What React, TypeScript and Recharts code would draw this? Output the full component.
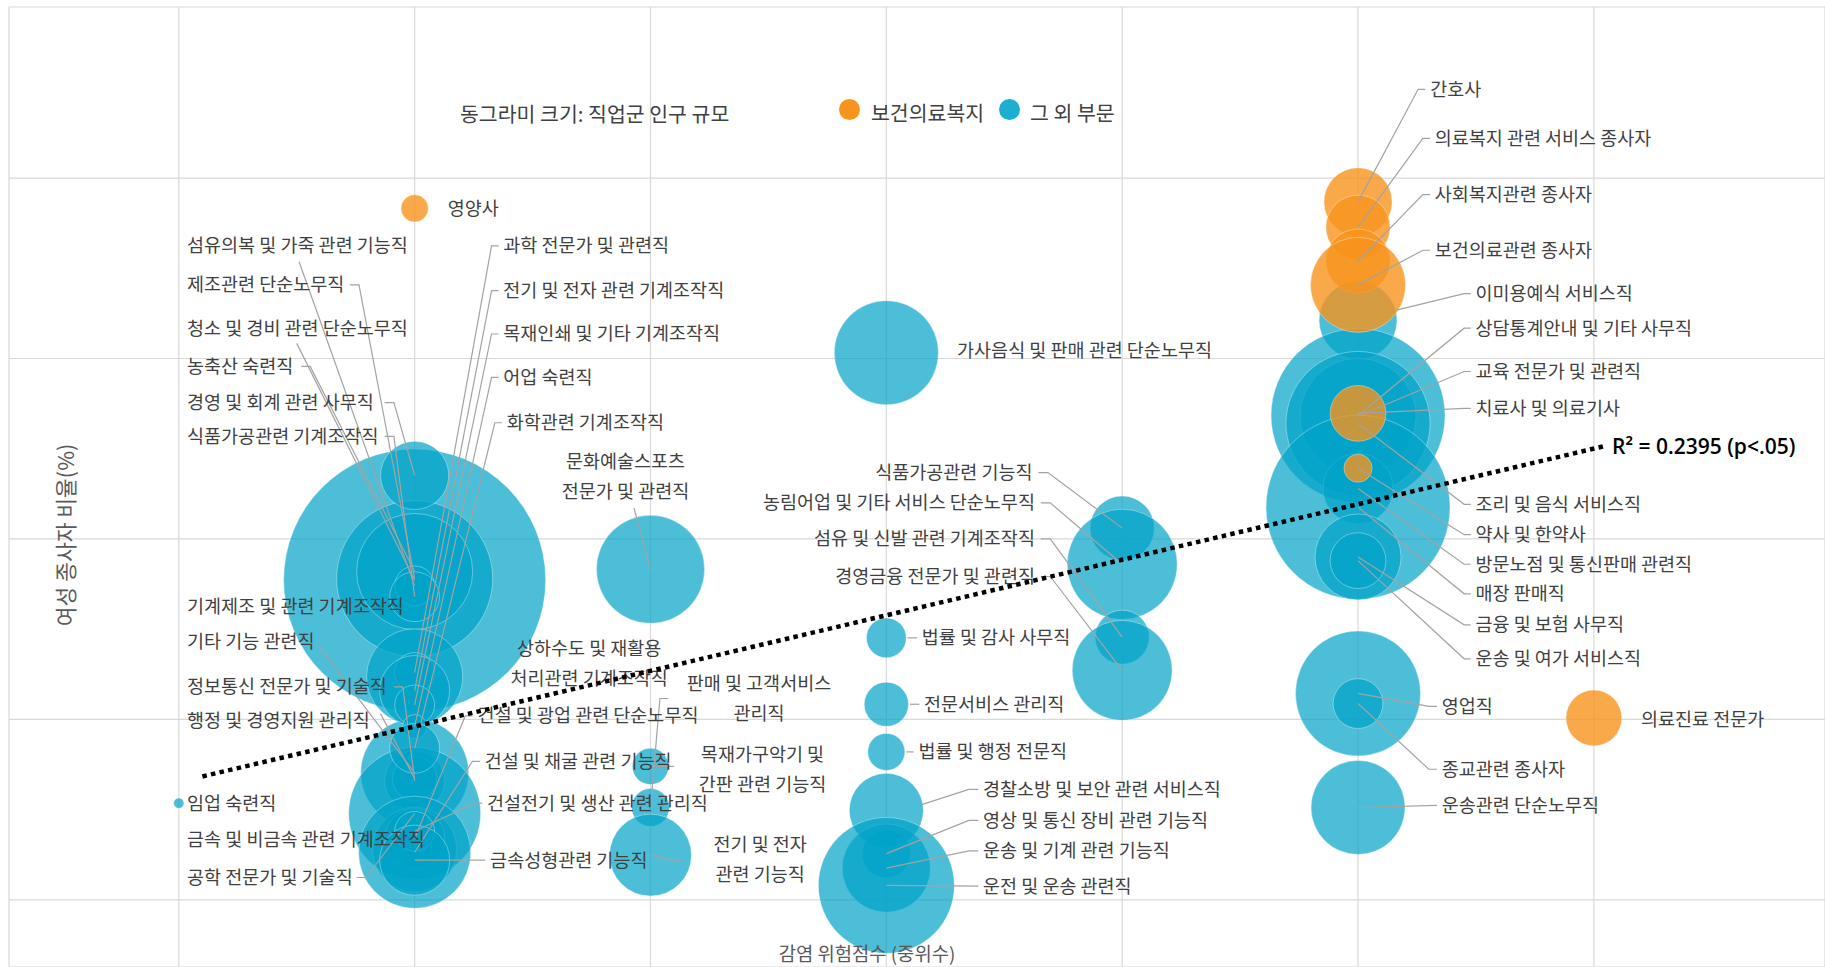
import React from "react";
import { ScatterChart, Scatter, XAxis, YAxis, ZAxis, CartesianGrid } from "recharts";

const WIDTH = 1825;
const HEIGHT = 967;
const FONT = '"Noto Sans CJK KR", "Noto Sans", sans-serif';
const ORANGE = "#F7941D";
const TEAL = "#00A2C7";
const LEADER = "#a3a3a3";

const riskTicks = [0, 1, 2, 3, 4, 5, 6];
const shareTicks = [0, 25, 50, 75, 100];

// risk = 감염 위험점수(중위수), female = 여성 종사자 비율(%), pop = 직업군 인구 규모(천 명)
const healthJobs = [
  { job: "영양사", risk: 1, female: 95.8, pop: 14 },
  { job: "간호사", risk: 5, female: 96.7, pop: 88 },
  { job: "의료복지 관련 서비스 종사자", risk: 5, female: 93.2, pop: 78 },
  { job: "사회복지관련 종사자", risk: 5, female: 88.5, pop: 78 },
  { job: "보건의료관련 종사자", risk: 5, female: 85.2, pop: 171 },
  { job: "치료사 및 의료기사", risk: 5, female: 67.4, pop: 59 },
  { job: "약사 및 한약사", risk: 5, female: 59.8, pop: 15 },
  { job: "의료진료 전문가", risk: 6, female: 25.2, pop: 59 },
];

const otherJobs = [
  { job: "임업 숙련직", risk: 0, female: 13.4, pop: 2 },
  { job: "청소 및 경비 관련 단순노무직", risk: 1, female: 44.3, pop: 1300 },
  { job: "제조관련 단순노무직", risk: 1, female: 44.5, pop: 461 },
  { job: "농축산 숙련직", risk: 1, female: 45.5, pop: 255 },
  { job: "섬유의복 및 가죽 관련 기능직", risk: 1, female: 43.5, pop: 30 },
  { job: "식품가공관련 기계조작직", risk: 1, female: 42.0, pop: 47 },
  { job: "경영 및 회계 관련 사무직", risk: 1, female: 58.8, pop: 88 },
  { job: "기계제조 및 관련 기계조작직", risk: 1, female: 30.9, pop: 175 },
  { job: "기타 기능 관련직", risk: 1, female: 17.6, pop: 221 },
  { job: "정보통신 전문가 및 기술직", risk: 1, female: 16.5, pop: 68 },
  { job: "행정 및 경영지원 관리직", risk: 1, female: 16.8, pop: 37 },
  { job: "공학 전문가 및 기술직", risk: 1, female: 12.0, pop: 330 },
  { job: "금속 및 비금속 관련 기계조작직", risk: 1, female: 7.0, pop: 134 },
  { job: "과학 전문가 및 관련직", risk: 1, female: 31.5, pop: 30 },
  { job: "전기 및 전자 관련 기계조작직", risk: 1, female: 29.0, pop: 93 },
  { job: "목재인쇄 및 기타 기계조작직", risk: 1, female: 27.0, pop: 30 },
  { job: "어업 숙련직", risk: 1, female: 24.0, pop: 11 },
  { job: "화학관련 기계조작직", risk: 1, female: 21.0, pop: 47 },
  { job: "상하수도 및 재활용 처리관련 기계조작직", risk: 1, female: 10.0, pop: 11 },
  { job: "건설 및 광업 관련 단순노무직", risk: 1, female: 8.5, pop: 68 },
  { job: "건설 및 채굴 관련 기능직", risk: 1, female: 6.6, pop: 238 },
  { job: "건설전기 및 생산 관련 관리직", risk: 1, female: 9.5, pop: 30 },
  { job: "금속성형관련 기능직", risk: 1, female: 5.5, pop: 93 },
  { job: "문화예술스포츠 전문가 및 관련직", risk: 2, female: 45.8, pop: 221 },
  { job: "판매 및 고객서비스 관리직", risk: 2, female: 12.8, pop: 27 },
  { job: "목재가구악기 및 간판 관련 기능직", risk: 2, female: 18.5, pop: 25 },
  { job: "전기 및 전자 관련 기능직", risk: 2, female: 6.2, pop: 127 },
  { job: "가사음식 및 판매 관련 단순노무직", risk: 3, female: 75.8, pop: 205 },
  { job: "법률 및 감사 사무직", risk: 3, female: 36.3, pop: 30 },
  { job: "전문서비스 관리직", risk: 3, female: 27.1, pop: 37 },
  { job: "법률 및 행정 전문직", risk: 3, female: 20.5, pop: 26 },
  { job: "경찰소방 및 보안 관련 서비스직", risk: 3, female: 12.4, pop: 104 },
  { job: "영상 및 통신 장비 관련 기능직", risk: 3, female: 6.4, pop: 44 },
  { job: "운송 및 기계 관련 기능직", risk: 3, female: 4.4, pop: 147 },
  { job: "운전 및 운송 관련직", risk: 3, female: 2.0, pop: 350 },
  { job: "식품가공관련 기능직", risk: 4, female: 51.5, pop: 78 },
  { job: "농림어업 및 기타 서비스 단순노무직", risk: 4, female: 46.5, pop: 229 },
  { job: "섬유 및 신발 관련 기계조작직", risk: 4, female: 36.4, pop: 55 },
  { job: "경영금융 전문가 및 관련직", risk: 4, female: 31.8, pop: 189 },
  { job: "이미용예식 서비스직", risk: 5, female: 80.3, pop: 115 },
  { job: "상담통계안내 및 기타 사무직", risk: 5, female: 67.1, pop: 573 },
  { job: "교육 전문가 및 관련직", risk: 5, female: 67.0, pop: 255 },
  { job: "조리 및 음식 서비스직", risk: 5, female: 66.0, pop: 393 },
  { job: "방문노점 및 통신판매 관련직", risk: 5, female: 57.0, pop: 93 },
  { job: "매장 판매직", risk: 5, female: 54.4, pop: 641 },
  { job: "금융 및 보험 사무직", risk: 5, female: 47.5, pop: 140 },
  { job: "운송 및 여가 서비스직", risk: 5, female: 47.0, pop: 59 },
  { job: "영업직", risk: 5, female: 28.6, pop: 296 },
  { job: "종교관련 종사자", risk: 5, female: 27.2, pop: 47 },
  { job: "운송관련 단순노무직", risk: 5, female: 12.8, pop: 167 },
];

// 추세선 (R² = 0.2395)
const trendLine = [
  { risk: 0.1, female: 17.1 },
  { risk: 6.05, female: 62.9 },
];

// label placement, in axis units; "B" = the bubble centre
type Pt = [number, number] | "B";
type Spot = { job: string; tx: number; ty: number; anchor?: string; lines?: string[]; lead?: Pt[] };
const lead = (x0: number, x1: number, y: number): Pt[] => [[x0, y], [x1, y], "B"];

const labelSpots: Spot[] = [
  { job: "영양사", tx: 1.14, ty: 95.8 },
  { job: "간호사", tx: 5.306, ty: 112.3, lead: lead(5.285, 5.255, 112.3) },
  { job: "의료복지 관련 서비스 종사자", tx: 5.325, ty: 105.5, lead: lead(5.305, 5.275, 105.5) },
  { job: "사회복지관련 종사자", tx: 5.325, ty: 97.7, lead: lead(5.305, 5.275, 97.7) },
  { job: "보건의료관련 종사자", tx: 5.325, ty: 90.0, lead: lead(5.305, 5.275, 90.0) },
  { job: "치료사 및 의료기사", tx: 5.498, ty: 68.1, lead: lead(5.478, 5.45, 68.1) },
  { job: "약사 및 한약사", tx: 5.498, ty: 50.6, lead: lead(5.478, 5.45, 50.6) },
  { job: "의료진료 전문가", tx: 6.2, ty: 25.0 },

  { job: "임업 숙련직", tx: 0.035, ty: 13.4 },
  { job: "섬유의복 및 가죽 관련 기능직", tx: 0.035, ty: 90.6, lead: [[0.51, 88.4], "B"] },
  { job: "제조관련 단순노무직", tx: 0.035, ty: 85.2, lead: lead(0.725, 0.764, 85.2) },
  { job: "청소 및 경비 관련 단순노무직", tx: 0.035, ty: 79.2, lead: [[0.5, 77.1], "B"] },
  { job: "농축산 숙련직", tx: 0.035, ty: 73.9, lead: lead(0.52, 0.557, 73.9) },
  { job: "경영 및 회계 관련 사무직", tx: 0.035, ty: 68.9, lead: lead(0.873, 0.912, 68.9) },
  { job: "식품가공관련 기계조작직", tx: 0.035, ty: 64.2, lead: lead(0.873, 0.912, 64.2) },
  { job: "기계제조 및 관련 기계조작직", tx: 0.035, ty: 40.6 },
  { job: "기타 기능 관련직", tx: 0.035, ty: 35.8, lead: [[0.59, 35.3], "B"] },
  { job: "정보통신 전문가 및 기술직", tx: 0.035, ty: 29.5, lead: lead(0.912, 0.95, 29.5) },
  { job: "행정 및 경영지원 관리직", tx: 0.035, ty: 24.8, lead: [[0.855, 25.8], "B"] },
  { job: "금속 및 비금속 관련 기계조작직", tx: 0.035, ty: 8.4 },
  { job: "공학 전문가 및 기술직", tx: 0.035, ty: 3.1, lead: lead(0.754, 0.794, 3.1) },
  { job: "과학 전문가 및 관련직", tx: 1.376, ty: 90.6, lead: lead(1.356, 1.326, 90.6) },
  { job: "전기 및 전자 관련 기계조작직", tx: 1.376, ty: 84.4, lead: lead(1.356, 1.326, 84.4) },
  { job: "목재인쇄 및 기타 기계조작직", tx: 1.376, ty: 78.4, lead: lead(1.356, 1.326, 78.4) },
  { job: "어업 숙련직", tx: 1.376, ty: 72.4, lead: lead(1.356, 1.326, 72.4) },
  { job: "화학관련 기계조작직", tx: 1.39, ty: 66.1, lead: lead(1.37, 1.34, 66.1) },
  { job: "상하수도 및 재활용 처리관련 기계조작직", tx: 1.74, ty: 32.8, anchor: "middle", lines: ["상하수도 및 재활용", "처리관련 기계조작직"] },
  { job: "건설 및 광업 관련 단순노무직", tx: 1.267, ty: 25.5, lead: lead(1.245, 1.215, 25.5) },
  { job: "건설 및 채굴 관련 기능직", tx: 1.297, ty: 19.2, lead: lead(1.277, 1.245, 19.2) },
  { job: "건설전기 및 생산 관련 관리직", tx: 1.307, ty: 13.4, lead: lead(1.287, 1.255, 13.4) },
  { job: "금속성형관련 기능직", tx: 1.32, ty: 5.5, lead: lead(1.3, 1.26, 5.5) },
  { job: "문화예술스포츠 전문가 및 관련직", tx: 1.894, ty: 58.7, anchor: "middle", lines: ["문화예술스포츠", "전문가 및 관련직"], lead: [[1.93, 54.3], "B"] },
  { job: "판매 및 고객서비스 관리직", tx: 2.46, ty: 27.9, anchor: "middle", lines: ["판매 및 고객서비스", "관리직"], lead: [[2.075, 27.9], [2.04, 27.9], "B"] },
  { job: "목재가구악기 및 간판 관련 기능직", tx: 2.475, ty: 18.1, anchor: "middle", lines: ["목재가구악기 및", "간판 관련 기능직"], lead: [[2.1, 18.5], "B"] },
  { job: "전기 및 전자 관련 기능직", tx: 2.465, ty: 5.6, anchor: "middle", lines: ["전기 및 전자", "관련 기능직"], lead: [[2.13, 5.5], [2.09, 5.5], "B"] },
  { job: "가사음식 및 판매 관련 단순노무직", tx: 3.3, ty: 76.1 },
  { job: "법률 및 감사 사무직", tx: 3.15, ty: 36.3, lead: [[3.13, 36.3], [3.09, 36.3]] },
  { job: "전문서비스 관리직", tx: 3.16, ty: 27.1, lead: [[3.14, 27.1], [3.1, 27.1]] },
  { job: "법률 및 행정 전문직", tx: 3.136, ty: 20.5, lead: [[3.116, 20.5], [3.085, 20.5]] },
  { job: "경찰소방 및 보안 관련 서비스직", tx: 3.41, ty: 15.3, lead: [[3.39, 15.3], [3.35, 15.3], [3.15, 13.2]] },
  { job: "영상 및 통신 장비 관련 기능직", tx: 3.41, ty: 11.0, lead: lead(3.39, 3.35, 11.0) },
  { job: "운송 및 기계 관련 기능직", tx: 3.41, ty: 6.8, lead: lead(3.39, 3.35, 6.8) },
  { job: "운전 및 운송 관련직", tx: 3.41, ty: 1.9, lead: [[3.39, 1.9], "B"] },
  { job: "식품가공관련 기능직", tx: 3.62, ty: 59.2, anchor: "end", lead: lead(3.645, 3.685, 59.2) },
  { job: "농림어업 및 기타 서비스 단순노무직", tx: 3.63, ty: 55.0, anchor: "end", lead: lead(3.655, 3.695, 55.0) },
  { job: "섬유 및 신발 관련 기계조작직", tx: 3.63, ty: 50.0, anchor: "end", lead: lead(3.655, 3.695, 50.0) },
  { job: "경영금융 전문가 및 관련직", tx: 3.63, ty: 44.8, anchor: "end", lead: lead(3.655, 3.695, 44.8) },
  { job: "이미용예식 서비스직", tx: 5.498, ty: 84.0, lead: [[5.478, 84.0], [5.45, 84.0], [5.163, 81.7]] },
  { job: "상담통계안내 및 기타 사무직", tx: 5.498, ty: 79.2, lead: lead(5.478, 5.45, 79.2) },
  { job: "교육 전문가 및 관련직", tx: 5.498, ty: 73.2, lead: lead(5.478, 5.45, 73.2) },
  { job: "조리 및 음식 서비스직", tx: 5.498, ty: 54.8, lead: lead(5.478, 5.45, 54.8) },
  { job: "방문노점 및 통신판매 관련직", tx: 5.498, ty: 46.5, lead: lead(5.478, 5.45, 46.5) },
  { job: "매장 판매직", tx: 5.498, ty: 42.4, lead: lead(5.478, 5.45, 42.4) },
  { job: "금융 및 보험 사무직", tx: 5.498, ty: 38.1, lead: lead(5.478, 5.45, 38.1) },
  { job: "운송 및 여가 서비스직", tx: 5.498, ty: 33.4, lead: lead(5.478, 5.45, 33.4) },
  { job: "영업직", tx: 5.355, ty: 26.8, lead: lead(5.335, 5.3, 26.8) },
  { job: "종교관련 종사자", tx: 5.355, ty: 18.1, lead: lead(5.335, 5.3, 18.1) },
  { job: "운송관련 단순노무직", tx: 5.355, ty: 13.1, lead: [[5.335, 13.1], "B"] },
];

const bubble = (color: string, opacity: number) => (p: any) => {
  const r = p.width ? p.width / 2 : Math.sqrt((p.size || 0) / Math.PI);
  return (
    <circle cx={p.cx} cy={p.cy} r={r} fill={color} fillOpacity={opacity}
      stroke="#ffffff" strokeOpacity={0.35} strokeWidth={1} />
  );
};

const Nothing = () => <g />;

const JobLabel = (p: any) => {
  const s = p.payload;
  const lines: string[] = s.lines ?? [s.job];
  const lh = 30;
  return (
    <text x={p.cx} y={p.cy} textAnchor={s.anchor ?? "start"} fontFamily={FONT} fontSize={18.5} fill="#3f3f3f">
      {lines.map((l, i) => (
        <tspan key={i} x={p.cx} y={p.cy + (i - (lines.length - 1) / 2) * lh} dy="0.35em">
          {l}
        </tspan>
      ))}
    </text>
  );
};

const XTick = (p: any) => (
  <text x={p.x} y={928} textAnchor="middle" dy="0.35em" fontFamily={FONT} fontSize={17} fill="#666">
    {p.payload.value}
  </text>
);

const YTick = (p: any) => (
  <text x={162} y={p.y} textAnchor="end" dy="0.35em" fontFamily={FONT} fontSize={17} fill="#666">
    {Number(p.payload.value).toFixed(1)}
  </text>
);

export default function App() {
  const allJobs = [...healthJobs, ...otherJobs];
  const leaders = labelSpots
    .filter((s) => s.lead)
    .map((s) => {
      const b = allJobs.find((j) => j.job === s.job)!;
      return s.lead!.map((pt) =>
        pt === "B" ? { risk: b.risk, female: b.female, pop: 0 } : { risk: pt[0], female: pt[1], pop: 0 }
      );
    });
  const labelPoints = labelSpots.map((s) => ({ ...s, risk: s.tx, female: s.ty, pop: 0 }));

  return (
    <div style={{ position: "absolute", left: 0, top: 0, width: WIDTH, height: HEIGHT, fontFamily: FONT, background: "#fff" }}>
      <ScatterChart width={WIDTH} height={HEIGHT} margin={{ top: 7, right: 0, bottom: 0, left: 9 }}>
        <CartesianGrid stroke="#d9d9d9" strokeWidth={1.2} />
        <XAxis type="number" dataKey="risk" domain={[-0.72, 6.98]} ticks={riskTicks} interval={0}
          allowDataOverflow height={0} axisLine={false} tickLine={false} tick={XTick} />
        <YAxis type="number" dataKey="female" domain={[-9.3, 123.7]} ticks={shareTicks} interval={0}
          allowDataOverflow width={0} axisLine={false} tickLine={false} tick={YTick} />
        <ZAxis type="number" dataKey="pop" domain={[0, 1300]} range={[0, Math.PI * 131 * 131]} />
        <Scatter name="그 외 부문" data={otherJobs} shape={bubble(TEAL, 0.7)} isAnimationActive={false} />
        <Scatter name="보건의료복지" data={healthJobs} shape={bubble(ORANGE, 0.8)} isAnimationActive={false} />
        {leaders.map((pts, i) => (
          <Scatter key={i} data={pts} line={{ stroke: LEADER, strokeWidth: 1.2 }} shape={Nothing}
            legendType="none" isAnimationActive={false} />
        ))}
        <Scatter data={labelPoints} shape={JobLabel} legendType="none" isAnimationActive={false} />
        <Scatter data={trendLine} line={{ stroke: "#000", strokeWidth: 4.5, strokeDasharray: "4.5 4.3" }}
          shape={Nothing} legendType="none" isAnimationActive={false} />
      </ScatterChart>

      {/* legend */}
      <div style={{ position: "absolute", left: 460, top: 113, transform: "translateY(-50%)", fontSize: 20.5, color: "#404040", whiteSpace: "nowrap" }}>
        동그라미 크기: 직업군 인구 규모
      </div>
      <div style={{ position: "absolute", left: 839, top: 99, width: 21, height: 21, borderRadius: "50%", background: ORANGE }} />
      <div style={{ position: "absolute", left: 871, top: 112, transform: "translateY(-50%)", fontSize: 20.5, color: "#404040", whiteSpace: "nowrap" }}>
        보건의료복지
      </div>
      <div style={{ position: "absolute", left: 999, top: 99, width: 21, height: 21, borderRadius: "50%", background: "#1CAFD0" }} />
      <div style={{ position: "absolute", left: 1030, top: 112, transform: "translateY(-50%)", fontSize: 20.5, color: "#404040", whiteSpace: "nowrap" }}>
        그 외 부문
      </div>

      {/* axis titles */}
      <div style={{ position: "absolute", left: 64, top: 535, transform: "translate(-50%, -50%) rotate(-90deg)", fontSize: 21.5, color: "#595959", whiteSpace: "nowrap" }}>
        여성 종사자 비율(%)
      </div>
      <div style={{ position: "absolute", left: 867, top: 952, transform: "translate(-50%, -50%)", fontSize: 18.8, color: "#595959", whiteSpace: "nowrap" }}>
        감염 위험점수 (중위수)
      </div>

      {/* R² of the trend line */}
      <div style={{ position: "absolute", left: 1612, top: 446, transform: "translateY(-50%)", fontFamily: '"Open Sans", sans-serif', fontSize: 21, fontWeight: 600, color: "#000", whiteSpace: "nowrap" }}>
        R² = 0.2395 (p&lt;.05)
      </div>
    </div>
  );
}
